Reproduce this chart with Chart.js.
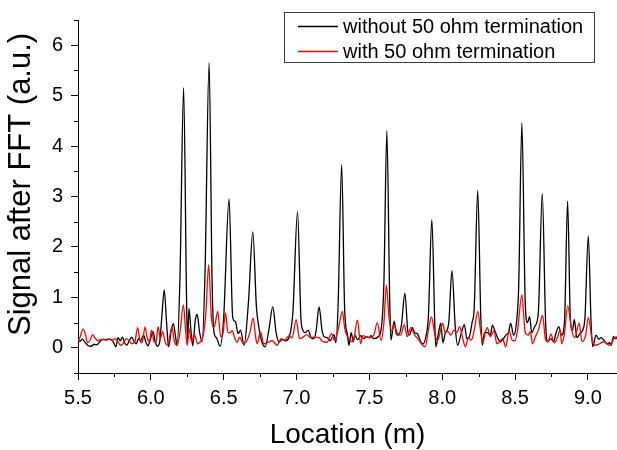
<!DOCTYPE html>
<html><head><meta charset="utf-8">
<script src="https://cdn.jsdelivr.net/npm/chart.js@4"></script>
<style>html,body{margin:0;padding:0;background:#fff}#wrap{width:617px;height:450px}</style>
</head><body><div id="wrap"><canvas id="c" width="617" height="450"></canvas></div>
<script>
// ---- data ----
const seriesLabels = ["without 50 ohm termination", "with 50 ohm termination"];
const xTitle = "Location (m)";
const yTitle = "Signal after FFT (a.u.)";
const xRange = [5.5, 9.2];
const yRange = [-0.5, 6.5];

const blackX = [5.50,5.515,5.53,5.55,5.57,5.59,5.61,5.63,5.65,5.67,5.69,5.71,5.73,5.745,5.76,5.775,5.79,5.805,5.82,5.835,5.85,5.87,5.885,5.90,5.915,5.93,5.95,5.965,5.98,5.995,6.015,6.03,6.045,6.06,6.075,6.092,6.108,6.122,6.14,6.155,6.168,6.18,6.20,6.225,6.245,6.252,6.262,6.275,6.288,6.305,6.318,6.335,6.352,6.372,6.40,6.42,6.432,6.45,6.476,6.50,6.537,6.562,6.58,6.60,6.615,6.64,6.67,6.70,6.725,6.742,6.762,6.785,6.81,6.837,6.86,6.88,6.90,6.925,6.95,6.975,7.007,7.03,7.042,7.06,7.08,7.10,7.12,7.135,7.155,7.175,7.19,7.21,7.23,7.257,7.27,7.285,7.31,7.33,7.35,7.36,7.375,7.39,7.40,7.42,7.44,7.46,7.48,7.50,7.51,7.53,7.56,7.58,7.60,7.62,7.64,7.648,7.67,7.685,7.70,7.72,7.744,7.765,7.775,7.796,7.81,7.83,7.854,7.87,7.89,7.905,7.929,7.95,7.957,7.975,7.99,8.005,8.02,8.045,8.067,8.09,8.106,8.13,8.152,8.17,8.19,8.205,8.22,8.244,8.265,8.275,8.29,8.31,8.33,8.345,8.36,8.38,8.40,8.42,8.44,8.455,8.47,8.49,8.51,8.525,8.547,8.57,8.586,8.60,8.615,8.635,8.66,8.687,8.71,8.725,8.746,8.765,8.78,8.80,8.82,8.84,8.861,8.88,8.895,8.907,8.925,8.945,8.965,8.98,9.003,9.022,9.033,9.056,9.075,9.09,9.11,9.13,9.15,9.16,9.175,9.19,9.21];
const blackY = [0.15,0.13,0.17,0.10,0.04,0.03,0.07,0.06,0.12,0.16,0.16,0.17,0.16,0.10,0.02,0.20,0.14,0.21,0.10,0.05,0.13,0.21,0.12,0.08,0.18,0.14,0.25,0.12,0.04,0.15,0.32,0.12,0.03,0.10,0.60,1.15,0.50,0.02,0.35,0.48,0.25,0.05,1.40,5.16,1.00,0.12,0.78,0.35,0.04,0.55,0.66,0.30,0.12,1.50,5.65,1.40,0.34,0.20,0.03,0.60,2.95,0.60,0.52,0.28,0.35,0.05,0.90,2.30,0.80,0.40,0.12,0.02,0.35,0.81,0.30,0.11,0.16,0.14,0.22,0.70,2.70,0.60,0.36,0.30,0.35,0.20,0.18,0.35,0.81,0.35,0.22,0.20,0.14,0.26,0.10,0.80,3.63,0.80,0.25,0.05,0.30,0.12,0.25,0.16,0.24,0.18,0.22,0.20,0.24,0.18,0.22,0.35,1.30,4.30,0.90,0.15,0.53,0.28,0.25,0.45,1.08,0.30,0.25,0.40,0.30,0.28,0.11,0.08,0.25,0.60,2.54,0.40,0.02,0.30,0.49,0.10,0.28,0.50,1.53,0.40,0.05,0.28,0.46,0.18,0.25,0.50,0.80,3.12,0.60,0.05,0.30,0.30,0.25,0.45,0.35,0.20,0.12,0.18,0.26,0.30,0.49,0.25,0.50,1.20,4.46,0.90,0.50,0.62,0.30,0.42,0.70,3.06,0.50,0.12,0.18,0.12,0.28,0.42,0.25,0.55,2.91,0.55,0.35,0.56,0.20,0.28,0.35,0.60,2.22,0.50,0.02,0.25,0.17,0.20,0.15,0.08,0.10,0.05,0.22,0.18,0.24];

const redX = [5.50,5.515,5.535,5.55,5.565,5.585,5.60,5.615,5.635,5.655,5.675,5.695,5.715,5.735,5.755,5.775,5.79,5.81,5.83,5.85,5.87,5.89,5.91,5.925,5.94,5.96,5.975,5.99,6.005,6.02,6.035,6.05,6.065,6.08,6.10,6.115,6.135,6.145,6.16,6.18,6.20,6.223,6.24,6.25,6.262,6.28,6.30,6.32,6.34,6.36,6.378,6.397,6.415,6.43,6.44,6.459,6.48,6.495,6.512,6.53,6.545,6.558,6.575,6.592,6.61,6.635,6.655,6.68,6.702,6.72,6.73,6.753,6.775,6.80,6.833,6.867,6.895,6.92,6.948,6.97,6.998,7.02,7.04,7.07,7.095,7.12,7.155,7.18,7.21,7.24,7.26,7.285,7.315,7.33,7.338,7.36,7.38,7.395,7.418,7.44,7.455,7.48,7.50,7.53,7.555,7.58,7.60,7.617,7.635,7.655,7.67,7.69,7.715,7.74,7.76,7.785,7.81,7.84,7.865,7.884,7.905,7.927,7.95,7.97,7.985,8.003,8.02,8.035,8.06,8.08,8.10,8.12,8.14,8.16,8.18,8.20,8.22,8.244,8.265,8.28,8.295,8.31,8.33,8.356,8.375,8.395,8.414,8.436,8.46,8.48,8.50,8.517,8.547,8.57,8.59,8.605,8.62,8.64,8.66,8.689,8.71,8.727,8.746,8.77,8.79,8.81,8.82,8.84,8.861,8.89,8.91,8.94,8.96,8.985,9.003,9.03,9.056,9.08,9.11,9.148,9.165,9.18,9.205];
const redY = [0.12,0.22,0.37,0.28,0.10,0.16,0.26,0.20,0.14,0.16,0.17,0.15,0.17,0.15,0.18,0.12,0.05,0.08,0.18,0.14,0.08,0.12,0.40,0.15,0.10,0.41,0.20,0.12,0.35,0.14,0.10,0.42,0.18,0.32,0.10,0.05,0.30,0.41,0.15,0.05,0.30,0.85,0.30,0.05,0.38,0.12,0.26,0.08,0.12,0.25,0.70,1.65,0.62,0.40,0.45,0.72,0.22,0.28,0.69,0.30,0.30,0.34,0.20,0.11,0.21,0.08,0.12,0.30,0.59,0.20,0.08,0.31,0.08,0.10,0.14,0.05,0.18,0.15,0.24,0.20,0.56,0.18,0.20,0.26,0.20,0.21,0.20,0.12,0.11,0.28,0.15,0.35,0.72,0.40,0.30,0.17,0.12,0.20,0.55,0.08,0.24,0.22,0.20,0.25,0.50,0.15,0.50,1.24,0.60,0.33,0.45,0.30,0.25,0.46,0.22,0.40,0.26,0.15,0.05,0.02,0.35,0.61,0.25,0.15,0.30,0.49,0.30,0.33,0.25,0.35,0.30,0.42,0.20,0.02,0.20,0.15,0.35,0.72,0.30,0.10,0.30,0.40,0.22,0.34,0.08,0.12,0.18,0.02,0.34,0.15,0.14,0.34,1.05,0.30,0.25,0.32,0.08,0.22,0.35,0.64,0.15,0.12,0.27,0.10,0.20,0.35,0.08,0.30,0.83,0.34,0.20,0.49,0.12,0.25,0.60,0.15,0.05,0.08,0.12,0.05,0.10,0.20,0.22];

// ---- chart ----
const FONT = 'Arial, "Liberation Sans", sans-serif';
Chart.defaults.font.family = FONT;
Chart.defaults.color = '#000';
const isInt = v => Math.abs(v - Math.round(v)) < 1e-6;
const toPts = (xs, ys) => xs.map((x, i) => ({x: x, y: ys[i]}));

const minorTicks = {
  id: 'minorTicks',
  afterDraw(chart) {
    const {ctx, scales: {x, y}} = chart;
    ctx.save();
    ctx.strokeStyle = '#000'; ctx.lineWidth = 1;
    ctx.beginPath();
    for (let k = 0; ; k++) {
      const v = x.min + 0.25 * k + 0.25;
      if (v > x.max + 1e-9) break;
      if (!isInt(v * 2)) { const p = Math.round(x.getPixelForValue(v)) + 0.5; ctx.moveTo(p, x.top); ctx.lineTo(p, x.top + 4); }
    }
    for (let k = 0; ; k++) {
      const v = y.min + 0.5 * k;
      if (v > y.max + 1e-9) break;
      if (!isInt(v)) { const p = Math.round(y.getPixelForValue(v)) + 0.5; ctx.moveTo(y.right, p); ctx.lineTo(y.right - 4, p); }
    }
    ctx.stroke();
    ctx.restore();
  }
};

const boxLegend = {
  id: 'boxLegend',
  afterDraw(chart) {
    const ctx = chart.ctx;
    ctx.save();
    const L = 284.5, T = 12.5, W = 310, H = 50;
    ctx.strokeStyle = '#3c3c3c'; ctx.lineWidth = 1;
    ctx.strokeRect(L, T, W, H);
    ctx.font = '20px ' + FONT; ctx.textBaseline = 'middle'; ctx.textAlign = 'left';
    chart.data.datasets.forEach((ds, i) => {
      const yy = T + 14 + i * 25;
      ctx.strokeStyle = ds.borderColor; ctx.lineWidth = 1.3;
      ctx.beginPath(); ctx.moveTo(298, yy); ctx.lineTo(338, yy); ctx.stroke();
      ctx.fillStyle = '#000';
      ctx.fillText(ds.label, 343, yy + 1);
    });
    ctx.restore();
  }
};

new Chart(document.getElementById('c'), {
  type: 'line',
  data: {
    datasets: [
      {label: seriesLabels[0], data: toPts(blackX, blackY), borderColor: '#000000', borderWidth: 1.3, pointRadius: 0, cubicInterpolationMode: 'monotone', order: 1},
      {label: seriesLabels[1], data: toPts(redX, redY), borderColor: '#ff0000', borderWidth: 1.3, pointRadius: 0, cubicInterpolationMode: 'monotone', order: 0}
    ]
  },
  options: {
    responsive: false, animation: false, devicePixelRatio: 1,
    layout: {padding: {top: 9, right: 0, bottom: 0, left: 0}},
    plugins: {legend: {display: false}, tooltip: {enabled: false}},
    scales: {
      x: {
        type: 'linear', min: xRange[0], max: xRange[1],
        border: {display: true, color: '#000', width: 1},
        grid: {drawOnChartArea: false, drawTicks: true, tickLength: 7, tickColor: '#000'},
        ticks: {stepSize: 0.5, includeBounds: false, autoSkip: false, maxRotation: 0, padding: 6, font: {size: 20}, callback: v => v.toFixed(1)},
        title: {display: true, text: xTitle, font: {size: 28}, padding: {top: 0, bottom: -2}},
        afterFit: s => { s.height = 77; }
      },
      y: {
        type: 'linear', min: yRange[0], max: yRange[1],
        border: {display: true, color: '#000', width: 1},
        grid: {drawOnChartArea: false, drawTicks: true, tickLength: 7,
               tickColor: c => (c.tick && isInt(c.tick.value) && c.tick.value >= 0) ? '#000' : 'rgba(0,0,0,0)'},
        ticks: {stepSize: 0.5, includeBounds: false, autoSkip: false, padding: 8, font: {size: 20},
                callback: v => (isInt(v) && v >= 0) ? String(Math.round(v)) : null},
        title: {display: true, text: '\u2002 ' + yTitle, font: {size: 31}, padding: {top: 3, bottom: 0}},
        afterFit: s => { s.width = 78; }
      }
    }
  },
  plugins: [minorTicks, boxLegend]
});
</script>
</body></html>
